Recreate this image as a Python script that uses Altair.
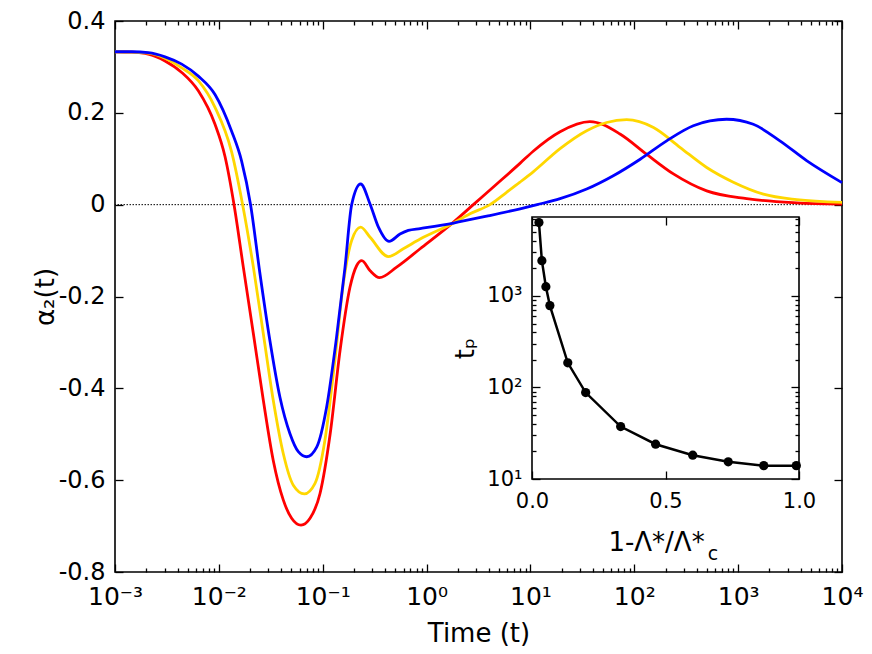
import altair as alt
import pandas as pd

FONT = "DejaVu Sans"
W, H = 727, 551

# ---- main panel data ----
SERIES = ["red", "gold", "blue"]
COLORS = ["#ff0000", "#ffd700", "#0000ff"]

T_RED = [0.001, 0.00145, 0.00209, 0.00303, 0.00439, 0.00634, 0.00918, 0.01146, 0.0140, 0.0172, 0.0215,
         0.0268, 0.0334, 0.0417, 0.0502, 0.0618, 0.0755, 0.0942, 0.118, 0.147, 0.183,
         0.212, 0.238, 0.286, 0.352, 0.515, 0.867, 1.82, 2.82, 4.74, 7.93,
         10.7, 19.3, 37.4, 72.8, 131, 238, 498, 1208, 3664, 10000]
A_RED = [0.333, 0.332, 0.328, 0.313, 0.288, 0.248, 0.175, 0.105, 0.0, -0.136, -0.281,
         -0.426, -0.557, -0.643, -0.683, -0.698, -0.683, -0.629, -0.499, -0.317, -0.180,
         -0.133, -0.122, -0.144, -0.159, -0.136, -0.096, -0.038, 0.0, 0.045, 0.090,
         0.117, 0.159, 0.181, 0.154, 0.110, 0.067, 0.030, 0.013, 0.004, 0.001]

T_GOLD = [0.001, 0.00145, 0.00209, 0.00303, 0.00439, 0.00634, 0.00918, 0.01327, 0.01694, 0.0215, 0.0268,
          0.0334, 0.0417, 0.0521, 0.0665, 0.0843, 0.105, 0.131, 0.158, 0.190, 0.232,
          0.286, 0.428, 0.597, 0.867, 1.82, 2.62, 4.08, 5.90, 7.93, 10.7, 19.3,
          34.8, 54.2, 84.5, 153, 275, 498, 899, 1750, 3664, 10000]
A_GOLD = [0.333, 0.332, 0.330, 0.319, 0.298, 0.270, 0.212, 0.115, 0.0, -0.136, -0.281,
          -0.426, -0.542, -0.611, -0.630, -0.607, -0.513, -0.339, -0.172, -0.078, -0.049,
          -0.071, -0.113, -0.096, -0.075, -0.040, -0.020, 0.0, 0.027, 0.049, 0.072, 0.122,
          0.161, 0.179, 0.185, 0.168, 0.125, 0.081, 0.049, 0.023, 0.011, 0.005]

T_BLUE = [0.001, 0.00145, 0.00209, 0.00303, 0.00439, 0.00634, 0.00918, 0.01327, 0.01656, 0.0202, 0.0249,
          0.0310, 0.0387, 0.0484, 0.0582, 0.0702, 0.0875, 0.109, 0.136, 0.164, 0.190,
          0.232, 0.286, 0.344, 0.435, 0.555, 0.667, 0.867, 1.82, 3.80, 7.96,
          11.6, 19.3, 34.8, 62.8, 114, 205, 370, 774, 1400, 2523, 4560, 10000]
A_BLUE = [0.333, 0.333, 0.331, 0.322, 0.306, 0.280, 0.240, 0.160, 0.095, 0.0, -0.151,
          -0.296, -0.419, -0.499, -0.538, -0.549, -0.528, -0.441, -0.288, -0.136, 0.0,
          0.045, 0.001, -0.049, -0.080, -0.064, -0.056, -0.052, -0.040, -0.025, -0.009,
          0.0, 0.013, 0.034, 0.063, 0.099, 0.139, 0.172, 0.186, 0.175, 0.139, 0.096, 0.048]

# ---- inset data ----
X_INSET = [0.026, 0.037, 0.052, 0.067, 0.134, 0.201, 0.332, 0.463, 0.602, 0.735, 0.868, 0.99]
TP_INSET = [6340, 2430, 1265, 785, 186, 88, 37.4, 24.0, 18.2, 15.4, 14.0, 14.0]

# ---- axes values / labels ----
XDOM = [1e-3, 1e4]
YDOM = [-0.8, 0.4]
MAJOR_X = [1e-3, 1e-2, 1e-1, 1e0, 1e1, 1e2, 1e3, 1e4]
MINOR_X = [k * 10.0 ** e for e in range(-3, 4) for k in range(2, 10)]
Y_TICKS = [-0.8, -0.6, -0.4, -0.2, 0.0, 0.2, 0.4]
X_LABELS = ["10⁻³", "10⁻²", "10⁻¹", "10⁰", "10¹", "10²", "10³", "10⁴"]
Y_LABELS = ["-0.8", "-0.6", "-0.4", "-0.2", "0", "0.2", "0.4"]

IX_DOM = [0.0, 1.0]
IY_DOM = [10, 7300]
IX_TICKS = [0.0, 0.5, 1.0]
IY_MAJOR = [10, 100, 1000]
IY_MINOR = [k * 10 ** e for e in range(1, 4) for k in range(2, 10) if k * 10 ** e <= 7300]
IY_LABELS = ["10¹", "10²", "10³"]

# inset placement inside the main plot area (pixels)
IX_RANGE = [417, 684]
IY_RANGE = [458, 196]

rows = []
for s, ts, vs in [("red", T_RED, A_RED), ("gold", T_GOLD, A_GOLD), ("blue", T_BLUE, A_BLUE)]:
    for t, v in zip(ts, vs):
        rows.append({"t": t, "a": v, "s": s})
df = pd.DataFrame(rows)
inset_df = pd.DataFrame({"x": X_INSET, "tp": TP_INSET})
zero_df = pd.DataFrame({"z": [0.0]})
box_df = pd.DataFrame({"x0": [IX_DOM[0]], "x1": [IX_DOM[1]], "y0": [IY_DOM[0]], "y1": [IY_DOM[1]]})


def mx():
    return alt.Scale(type="log", domain=XDOM, nice=False)


def my():
    return alt.Scale(domain=YDOM, nice=False, zero=False)


def ix():
    return alt.Scale(domain=IX_DOM, range=IX_RANGE, nice=False, zero=False)


def iy():
    return alt.Scale(type="log", domain=IY_DOM, range=IY_RANGE, nice=False)


common = dict(domain=False, grid=False, tickColor="black", tickWidth=1.3,
              labelFont=FONT, titleFont=FONT, labelColor="black", titleColor="black",
              labelFlush=False, labelOverlap=False, titleFontWeight="normal")

x_label_expr = "[" + ",".join("'%s'" % s for s in X_LABELS) + "][round(log(datum.value)/LN10)+3]"
y_label_expr = "[" + ",".join("'%s'" % s for s in Y_LABELS) + "][round(datum.value*5)+4]"
iy_label_expr = "[" + ",".join("'%s'" % s for s in IY_LABELS) + "][round(log(datum.value)/LN10)-1]"

ax_bottom_major = alt.Axis(orient="bottom", values=MAJOR_X, tickSize=8, offset=-8,
                           labelPadding=32, labelBaseline="alphabetic", labelFontSize=25,
                           labelExpr=x_label_expr, title="Time (t)", titleFontSize=26,
                           titleX=W / 2, titleY=77, titleBaseline="alphabetic", titleAlign="center",
                           **common)
ax_bottom_minor = alt.Axis(orient="bottom", values=MINOR_X, tickSize=4, offset=-4,
                           labels=False, title=None, **common)
ax_top_major = alt.Axis(orient="top", values=MAJOR_X, tickSize=8, offset=-8,
                        labels=False, title=None, **common)
ax_top_minor = alt.Axis(orient="top", values=MINOR_X, tickSize=4, offset=-4,
                        labels=False, title=None, **common)
ax_left = alt.Axis(orient="left", values=Y_TICKS, tickSize=8, offset=-8, labelPadding=10,
                   labelFontSize=24, labelExpr=y_label_expr, labelBaseline="middle",
                   title="α₂(t)", titleFontSize=26, titleAngle=-90, titleX=-78, titleY=H / 2,
                   titleAlign="center", titleBaseline="middle", **common)
ax_right = alt.Axis(orient="right", values=Y_TICKS, tickSize=8, offset=-8,
                    labels=False, title=None, **common)

in_bottom = alt.Axis(orient="bottom", values=IX_TICKS, tickSize=8, offset=-(H - IY_RANGE[0]) - 8,
                     labelPadding=28, labelBaseline="alphabetic", labelFontSize=21, format=".1f",
                     title="1-Λ*/Λ*", titleFontSize=26, titleX=541,
                     titleY=79, titleBaseline="alphabetic", titleAlign="center", zindex=1, **common)
in_top = alt.Axis(orient="top", values=IX_TICKS, tickSize=8, offset=-(IY_RANGE[1] + 8),
                  labels=False, title=None, zindex=1, **common)
in_left_major = alt.Axis(orient="left", values=IY_MAJOR, tickSize=8, offset=-(IX_RANGE[0] + 8),
                         labelPadding=10, labelFontSize=21, labelExpr=iy_label_expr,
                         labelBaseline="middle", title="tₚ", titleFontSize=26, titleAngle=-90,
                         titleX=-75, titleY=(IY_RANGE[0] + IY_RANGE[1]) / 2,
                         titleAlign="center", titleBaseline="middle", zindex=1, **common)
in_left_minor = alt.Axis(orient="left", values=IY_MINOR, tickSize=4, offset=-(IX_RANGE[0] + 4),
                         labels=False, title=None, zindex=1, **common)
in_right_major = alt.Axis(orient="right", values=IY_MAJOR, tickSize=8, offset=IX_RANGE[1] - 8 - W,
                          labels=False, title=None, zindex=1, **common)
in_right_minor = alt.Axis(orient="right", values=IY_MINOR, tickSize=4, offset=IX_RANGE[1] - 4 - W,
                          labels=False, title=None, zindex=1, **common)


def main_axes(xa, ya):
    enc = {"x": alt.X("t:Q", scale=mx(), axis=xa)}
    if ya is not None:
        enc["y"] = alt.Y("a:Q", scale=my(), axis=ya)
    return alt.Chart(df).mark_point(opacity=0).encode(**enc)


def inset_axes(xa, ya):
    enc = {}
    if xa is not None:
        enc["x"] = alt.X("x:Q", scale=ix(), axis=xa)
    if ya is not None:
        enc["y"] = alt.Y("tp:Q", scale=iy(), axis=ya)
    return alt.Chart(inset_df).mark_point(opacity=0).encode(**enc)


zero_line = alt.Chart(zero_df).mark_rule(color="black", strokeWidth=1, strokeDash=[1.5, 1.5]).encode(
    y=alt.Y("z:Q", scale=my(), axis=None))

curves = alt.Chart(df).mark_line(strokeWidth=2.8, interpolate="monotone").encode(
    x=alt.X("t:Q", scale=mx(), axis=None),
    y=alt.Y("a:Q", scale=my(), axis=None),
    color=alt.Color("s:N", scale=alt.Scale(domain=SERIES, range=COLORS), legend=None),
    detail="s:N")

box = alt.Chart(box_df).mark_rect(fill="white", stroke="black", strokeWidth=1.6).encode(
    x=alt.X("x0:Q", scale=ix(), axis=None), x2="x1",
    y=alt.Y("y0:Q", scale=iy(), axis=None), y2="y1")

inset_line = alt.Chart(inset_df).mark_line(
    color="black", strokeWidth=2.5,
    point=alt.OverlayMarkDef(filled=True, size=85, color="black", opacity=1)).encode(
    x=alt.X("x:Q", scale=ix(), axis=None),
    y=alt.Y("tp:Q", scale=iy(), axis=None))

sub_c = alt.Chart(zero_df).mark_text(text="c", font=FONT, fontSize=19, color="black",
                                     align="center", baseline="alphabetic").encode(
    x=alt.value(598), y=alt.value(539))

chart = alt.layer(
    zero_line, curves,
    main_axes(ax_bottom_major, ax_left),
    main_axes(ax_bottom_minor, ax_right),
    main_axes(ax_top_major, None),
    main_axes(ax_top_minor, None),
    box, inset_line,
    inset_axes(in_bottom, in_left_major),
    inset_axes(in_top, in_left_minor),
    inset_axes(None, in_right_major),
    inset_axes(None, in_right_minor),
    sub_c,
).resolve_scale(x="independent", y="independent").resolve_axis(
    x="independent", y="independent").properties(
    width=W, height=H,
    autosize=alt.AutoSizeParams(type="none"),
    padding={"left": 107, "top": 13, "right": 22, "bottom": 74},
    background="white",
).configure_view(stroke="black", strokeWidth=1.6)

chart.save("out.html", embed_options={"renderer": "svg", "actions": False})
